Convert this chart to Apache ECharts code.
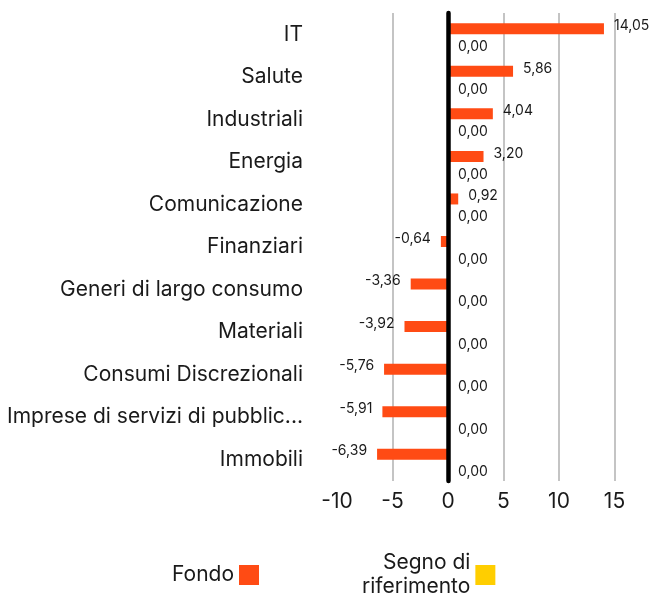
<!DOCTYPE html>
<html>
<head>
<meta charset="utf-8">
<script src="https://cdn.jsdelivr.net/npm/echarts@6/dist/echarts.min.js"></script>
<style>html,body{margin:0;padding:0;background:#fff}#c{width:653px;height:598px}</style>
</head>
<body>
<div id="c"></div>
<script>
const categories = ["IT","Salute","Industriali","Energia","Comunicazione","Finanziari","Generi di largo consumo","Materiali","Consumi Discrezionali","Imprese di servizi di pubblic...","Immobili"];
const fondo = [14.05, 5.86, 4.04, 3.20, 0.92, -0.64, -3.36, -3.92, -5.76, -5.91, -6.39];
const riferimento = [0, 0, 0, 0, 0, 0, 0, 0, 0, 0, 0];
const seriesNames = ["Fondo", "Segno di riferimento"];
const xTicks = { min: -10, max: 15, interval: 5 };

const FONT = "Inter";
const TXT = "#1a1a1a";
const fmt = v => v.toFixed(2).replace('.', ',');

const chart = echarts.init(document.getElementById('c'), null, { renderer: 'canvas' });
chart.setOption({
  animation: false,
  textStyle: { fontFamily: FONT, color: TXT },
  grid: { left: 337, right: 38.5, top: 13, bottom: 598 - 481, outerBoundsMode: 'none', containLabel: false },
  legend: {
    data: seriesNames,
    left: 167, top: 546,
    align: 'right',
    itemWidth: 20, itemHeight: 20, itemGap: 103,
    icon: 'rect',
    formatter: n => n === "Segno di riferimento" ? "Segno di\nriferimento" : n,
    textStyle: { fontFamily: FONT, fontSize: 21, color: TXT, lineHeight: 24 }
  },
  xAxis: {
    type: 'value',
    min: xTicks.min, max: xTicks.max, interval: xTicks.interval,
    axisLine: { show: false }, axisTick: { show: false },
    axisLabel: { fontFamily: FONT, fontSize: 21, color: TXT, margin: 10 },
    splitLine: { show: true, showMinLine: false, lineStyle: { color: '#c4c4c4', width: 2 } }
  },
  yAxis: {
    type: 'category', data: categories, inverse: true, z: 10,
    axisLine: { show: true, onZero: true, lineStyle: { color: '#000', width: 4.5 } },
    axisTick: { show: false },
    axisLabel: { fontFamily: FONT, fontSize: 21, color: TXT, margin: 34 }
  },
  series: [
    {
      name: seriesNames[0], type: 'bar', barWidth: 11, barGap: '0%',
      itemStyle: { color: '#FF4B14' },
      data: fondo.map(v => ({
        value: v,
        label: { position: v < 0 ? 'left' : 'right' }
      })),
      label: { show: true, distance: 10, offset: [0, -3], fontFamily: FONT, fontSize: 14, color: TXT, formatter: p => fmt(p.value) }
    },
    {
      name: seriesNames[1], type: 'bar', barWidth: 11,
      itemStyle: { color: '#FFCE00' },
      data: riferimento,
      label: { show: true, position: 'right', distance: 10, offset: [0, 7], fontFamily: FONT, fontSize: 14, color: TXT, formatter: p => fmt(p.value) }
    }
  ]
});
</script>
</body>
</html>
